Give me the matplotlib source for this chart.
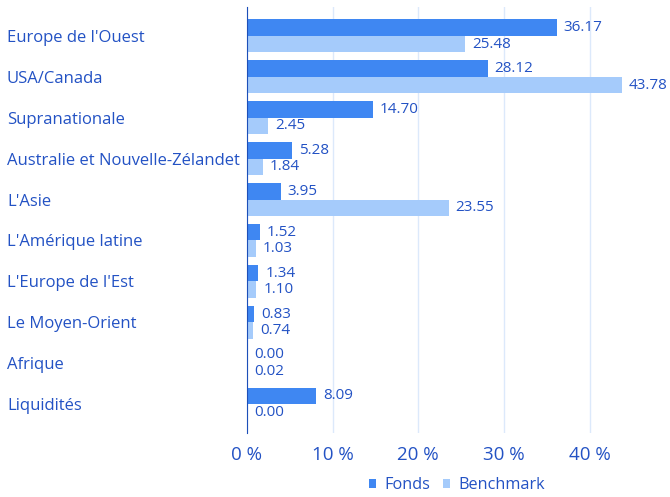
import matplotlib
matplotlib.use("Agg")
import matplotlib.pyplot as plt
import numpy as np

categories = ["Europe de l'Ouest", "USA/Canada", "Supranationale", "Australie et Nouvelle-Zélandet",
              "L'Asie", "L'Amérique latine", "L'Europe de l'Est", "Le Moyen-Orient", "Afrique", "Liquidités"]
fonds = [36.17, 28.12, 14.70, 5.28, 3.95, 1.52, 1.34, 0.83, 0.00, 8.09]
benchmark = [25.48, 43.78, 2.45, 1.84, 23.55, 1.03, 1.10, 0.74, 0.02, 0.00]
xticks = [0, 10, 20, 30, 40]
xticklabels = ["0 %", "10 %", "20 %", "30 %", "40 %"]

plt.rcParams['font.family'] = ['Open Sans', 'DejaVu Sans']
txt = "#2352c4"
c_f = "#3f87f2"
c_b = "#a5cbfb"

fig = plt.figure(figsize=(6.70, 4.97), dpi=100)
ax = fig.add_axes([247/670, 1-433/497, 1-247/670, 426/497])

y = np.arange(len(categories))
h = 0.41
ax.barh(y - h/2, fonds, height=h, color=c_f, label="Fonds", zorder=3)
ax.barh(y + h/2, benchmark, height=h, color=c_b, label="Benchmark", zorder=3)
for i in range(len(categories)):
    ax.text(fonds[i] + 0.8, y[i] - h/2, f"{fonds[i]:.2f}", va="center", ha="left", color=txt, fontsize=11)
    ax.text(benchmark[i] + 0.8, y[i] + h/2, f"{benchmark[i]:.2f}", va="center", ha="left", color=txt, fontsize=11)

ax.set_ylim(len(categories) - 1 + 0.7, -0.7)
ax.set_xlim(0, 49.4)
ax.set_yticks(y)
ax.set_yticklabels(categories, fontsize=12, color=txt, ha="left")
ax.set_xticks(xticks)
ax.set_xticklabels(xticklabels, fontsize=13.5, color=txt)
ax.tick_params(axis='y', length=0, pad=(247-7)*72/100)
ax.tick_params(axis='x', length=0, pad=9)
ax.grid(axis='x', color="#dce9fb", linewidth=1, zorder=0)
for s in ["top", "right", "bottom"]:
    ax.spines[s].set_visible(False)
ax.spines["left"].set_color("#1d4fb8")
ax.spines["left"].set_zorder(4)

leg = fig.legend(loc="lower center", bbox_to_anchor=(0.682, -0.022), ncol=2, frameon=False,
                 handlelength=0.45, handleheight=0.45, handletextpad=0.5, columnspacing=0.8,
                 fontsize=11.7)
for t in leg.get_texts():
    t.set_color(txt)

fig.savefig("out.png", dpi=100)
